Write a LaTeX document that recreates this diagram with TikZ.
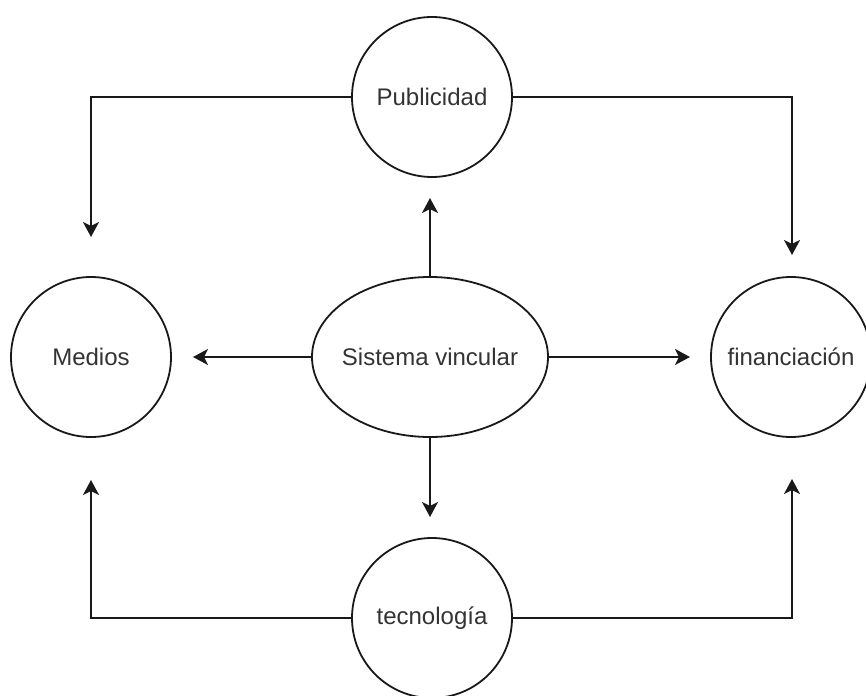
\documentclass[tikz,border=0pt]{standalone}
\usepackage{fontspec}
\setmainfont{Liberation Sans}
\usepackage{tikz}
\usetikzlibrary{arrows.meta,shapes.geometric,positioning}
\tikzset{
  bubble/.style={circle,draw=black!90,line width=0.9pt,minimum size=80pt,inner sep=0pt,
    text=black!80,font=\fontsize{12}{14}\selectfont},
  hub/.style={ellipse,draw=black!90,line width=0.9pt,minimum width=118pt,minimum height=80pt,
    inner xsep=-3pt,inner ysep=0pt,text=black!80,font=\fontsize{12}{14}\selectfont},
  link/.style={draw=black!90,line width=0.9pt,-{Stealth[length=7.5pt,width=8pt,inset=2pt]}}
}

\begin{document}
\begin{tikzpicture}[x=0.5pt,y=-0.5pt]
                \useasboundingbox (0,0) rectangle (866,695);
                \begin{scope}
                    \clip (0,0) rectangle (866,695);
                    \node[bubble] (pub) at (432,97) {Publicidad};
                    \node[bubble] (med) at (91,357) {Medios};
                    \node[hub] (sis) at (430,357) {Sistema vincular};
                    \node[bubble] (fin) at (791,357) {financiación};
                    \node[bubble] (tec) at (432,618) {tecnología};
                \end{scope}
                % free ends of the arrows
                \coordinate (medT) at (91,237);
                \coordinate (medB) at (91,480);
                \coordinate (finT) at (792,255);
                \coordinate (finB) at (792,479);
                \coordinate (sisT) at (430,198);
                \coordinate (sisB) at (430,517);
                \coordinate (sisL) at (193,357);
                \coordinate (sisR) at (690,357);
                \draw[link] (pub.west) -| (medT);
                \draw[link] (pub.east) -| (finT);
                \draw[link] (tec.west) -| (medB);
                \draw[link] (tec.east) -| (finB);
                \draw[link] (sis.north) -- (sisT);
                \draw[link] (sis.south) -- (sisB);
                \draw[link] (sis.west) -- (sisL);
                \draw[link] (sis.east) -- (sisR);
            \end{tikzpicture}
\end{document}
